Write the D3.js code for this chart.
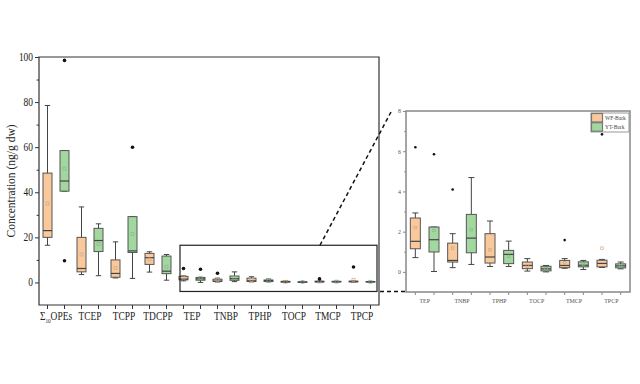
<!DOCTYPE html>
<html><head><meta charset="utf-8">
<script src="https://cdn.jsdelivr.net/npm/d3@7"></script>
<style>body{margin:0;background:#fff}svg{display:block}text{font-family:"Liberation Serif","Times New Roman",serif}</style>
</head><body>
<script>
const categories = ["Σ10OPEs","TCEP","TCPP","TDCPP","TEP","TNBP","TPHP","TOCP","TMCP","TPCP"];
const insetCategories = ["TEP","TNBP","TPHP","TOCP","TMCP","TPCP"];
const seriesNames = ["WF-Bark","YT-Bark"];
// [min, q1, median, q3, max, mean]
const wfStats = [
  [16.5,20,23,48.5,78.5,35],[3.5,4.7,6.2,20,33.5,12.4],[2,2.3,4,10,18,6.5],[4.6,8,11,12.9,13.6,10.2],
  [0.71,1.15,1.52,2.68,2.93,2.2],[0.21,0.49,0.57,1.43,1.9,1.18],[0.27,0.44,0.74,1.9,2.53,1.1],
  [0.04,0.16,0.32,0.49,0.66,0.3],[0.18,0.21,0.32,0.57,0.66,0.45],[0.22,0.25,0.42,0.58,0.62,1.18]];
const ytStats = [
  [40.5,40.5,45,58.5,58.5,50.5],[3,13.7,18.6,24,26,17],[1.8,13.3,14,29.2,29.2,21.6],[1,3.9,5,11.7,12.4,7],
  [0.02,0.99,1.6,2.23,2.23,2.06],[0.37,0.95,1.68,2.86,4.69,2.1],[0.27,0.41,0.87,1.07,1.53,0.77],
  [0,0.05,0.15,0.28,0.32,0.15],[0.12,0.25,0.33,0.5,0.57,0.38],[0.15,0.2,0.3,0.4,0.49,0.3]];
const wfOutliers = [[],[],[],[],[6.2],[4.1],[],[],[1.58],[6.84]];
const ytOutliers = [[98.5,9.6],[],[60],[],[5.85],[],[],[],[],[]];
const mainTicks = [0,20,40,60,80,100];
const insetTicks = [0,2,4,6,8];

const fills = ["#F9C99C","#A2D7A0"];
const meanCol = ["#c9a98d","#8fb58e"];

const svg = d3.select("body").append("svg").attr("width",640).attr("height",384);

function drawPanel(o){
  const g = svg.append("g");
  const x = d3.scaleBand().domain(o.cats).range([o.left,o.right]);
  const y = d3.scaleLinear().domain(o.ydom).range([o.bottom,o.top]);
  const off = x.bandwidth()/4;
  // y axis ticks
  const yg = g.append("g").attr("transform",`translate(${o.left},0)`).call(d3.axisLeft(y).tickValues(o.yticks).tickSize(o.tick).tickFormat(""));
  const minor = [];
  for(let i=0;i<o.yticks.length-1;i++) minor.push((o.yticks[i]+o.yticks[i+1])/2);
  g.append("g").attr("transform",`translate(${o.left},0)`).call(d3.axisLeft(y).tickValues(minor).tickSize(o.tick*0.6).tickFormat(""))
    .call(s=>s.select(".domain").remove()).selectAll("line").attr("stroke",o.axisCol);
  yg.select(".domain").remove();
  yg.selectAll("line").attr("stroke",o.axisCol);
  g.selectAll(".yl").data(o.yticks).join("text")
    .attr("transform",d=>`translate(${o.left-o.tick-2},${y(d)+o.fs*0.33}) scale(${o.sx},1)`)
    .attr("text-anchor","end").attr("font-size",o.fs).attr("fill",o.textCol).text(d=>d);
  // x ticks
  const xpos = [];
  o.cats.forEach(c=>{xpos.push(x(c)+off); xpos.push(x(c)+3*off);});
  g.selectAll(".xt").data(xpos).join("line").attr("x1",d=>d).attr("x2",d=>d)
    .attr("y1",o.bottom).attr("y2",o.bottom+o.tick).attr("stroke",o.axisCol);
  const lab = g.selectAll(".xl").data(o.cats).join("text")
    .attr("transform",d=>`translate(${x(d)+x.bandwidth()/2},${o.bottom+o.labDy}) scale(${o.sx},1)`)
    .attr("text-anchor","middle").attr("font-size",o.fs).attr("fill",o.textCol);
  lab.each(function(d){
    const t = d3.select(this);
    if(d.startsWith("Σ10")){
      t.append("tspan").text("Σ");
      t.append("tspan").text("10").attr("font-size",o.fs*0.55).attr("dy",2.5);
      t.append("tspan").text("OPEs").attr("dy",-2.5);
    } else t.text(d);
  });
  // frame
  g.append("path").attr("d",`M${o.left},${o.bottom}V${o.top}H${o.right}V${o.bottom}Z`)
    .attr("fill","none").attr("stroke",o.axisCol).attr("stroke-width",o.frameW);
  // boxes
  const bw = o.bw;
  o.cats.forEach(c=>{
    const ci = categories.indexOf(c);
    [wfStats[ci],ytStats[ci]].forEach((s,si)=>{
      const cx = x(c)+(si===0?off:3*off);
      const bg = g.append("g");
      bg.append("line").attr("x1",cx).attr("x2",cx).attr("y1",y(s[0])).attr("y2",y(s[4])).attr("stroke","#444").attr("stroke-width",1);
      [s[0],s[4]].forEach(v=>bg.append("line").attr("x1",cx-bw*0.3).attr("x2",cx+bw*0.3).attr("y1",y(v)).attr("y2",y(v)).attr("stroke","#444").attr("stroke-width",1));
      bg.append("rect").attr("x",cx-bw/2).attr("width",bw).attr("y",y(s[3])).attr("height",Math.max(0.5,y(s[1])-y(s[3])))
        .attr("fill",fills[si]).attr("stroke","#555").attr("stroke-width",1);
      bg.append("line").attr("x1",cx-bw/2).attr("x2",cx+bw/2).attr("y1",y(s[2])).attr("y2",y(s[2])).attr("stroke","#444").attr("stroke-width",1.2);
      bg.append("rect").attr("x",cx-o.ms/2).attr("y",y(s[5])-o.ms/2).attr("width",o.ms).attr("height",o.ms)
        .attr("fill","none").attr("stroke",meanCol[si]).attr("stroke-width",0.7);
      (si===0?wfOutliers:ytOutliers)[ci].forEach(v=>{
        if(v<=o.ydom[1]) bg.append("circle").attr("cx",cx).attr("cy",y(v)).attr("r",o.or).attr("fill","#111");
      });
    });
  });
  return {x,y};
}

const main = drawPanel({cats:categories,left:39,right:379,top:57,bottom:305,ydom:[-10,100],yticks:mainTicks,
  tick:4,fs:11.5,sx:0.82,labDy:15,axisCol:"#333",textCol:"#222",frameW:1.2,bw:9,ms:3,or:1.8});
const ins = drawPanel({cats:insetCategories,left:406,right:630,top:111,bottom:292,ydom:[-1,8],yticks:insetTicks,
  tick:3,fs:7,sx:0.85,labDy:11,axisCol:"#888",textCol:"#555",frameW:1.5,bw:10,ms:2.5,or:1.3});

// y label
svg.append("text").attr("transform","translate(15,181) rotate(-90)").attr("text-anchor","middle")
  .attr("font-size",11.5).attr("fill","#222").text("Concentration (ng/g dw)");

// zoom rectangle on main plot
const rx0 = main.x("TEP")+5, rx1 = 377, ry0 = main.y(16.5), ry1 = main.y(-4);
svg.append("rect").attr("x",rx0).attr("y",ry0).attr("width",rx1-rx0).attr("height",ry1-ry0)
  .attr("fill","none").attr("stroke","#222").attr("stroke-width",1.2);
// dashed connectors
svg.append("line").attr("x1",320).attr("y1",ry0).attr("x2",391).attr("y2",112)
  .attr("stroke","#111").attr("stroke-width",1.5).attr("stroke-dasharray","4,3");
svg.append("line").attr("x1",380).attr("y1",ry1).attr("x2",405).attr("y2",ry1)
  .attr("stroke","#111").attr("stroke-width",1.5).attr("stroke-dasharray","4,3");

// legend
const lg = svg.append("g").attr("transform","translate(591,113)");
lg.append("rect").attr("width",38).attr("height",19).attr("fill","#fff").attr("stroke","#999").attr("stroke-width",1);
seriesNames.forEach((n,i)=>{
  lg.append("rect").attr("x",0.5).attr("y",0.5+i*9.2).attr("width",11).attr("height",8.5).attr("fill",fills[i]).attr("stroke","#777").attr("stroke-width",1.2);
  lg.append("text").attr("transform",`translate(14,${7+i*9.2}) scale(0.85,1)`).attr("font-size",6.5).attr("fill","#444").text(n);
});
</script>
</body></html>
